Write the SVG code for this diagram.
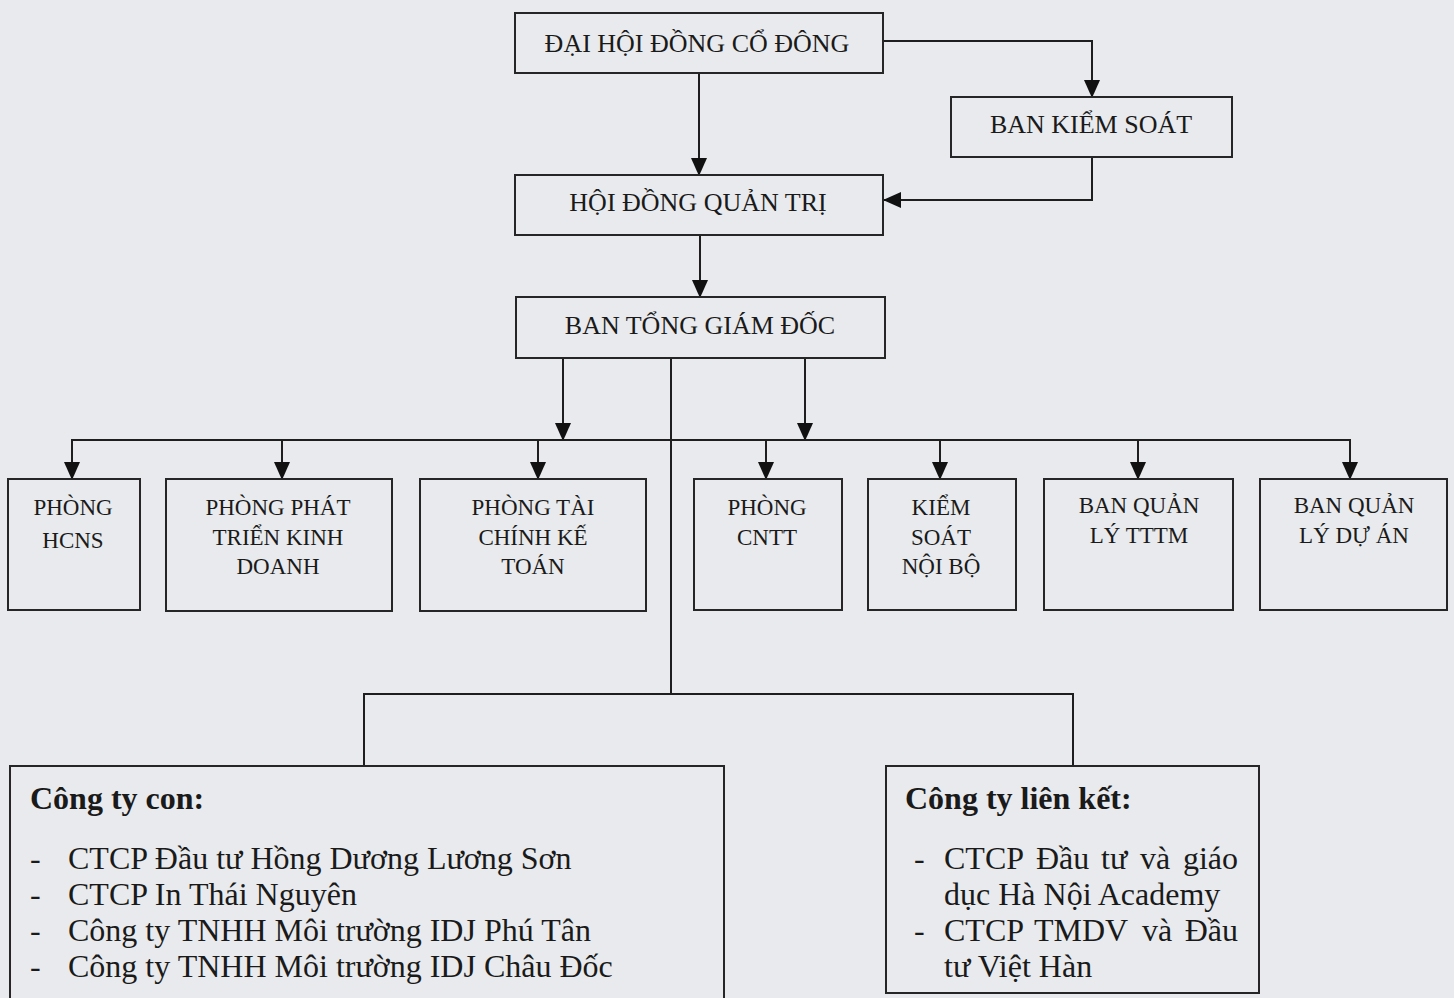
<svg xmlns="http://www.w3.org/2000/svg" width="1454" height="998" viewBox="0 0 1454 998">
<style>
.bx{fill:none;stroke:#262626;stroke-width:2}
.ln{fill:none;stroke:#1e1e1e;stroke-width:2}
.t1{font-family:"Liberation Serif","Times New Roman",serif;font-size:26px;fill:#1a1a1a;text-anchor:middle}
.t2{font-family:"Liberation Serif","Times New Roman",serif;font-size:23px;fill:#1a1a1a;text-anchor:middle}
.t3{font-family:"Liberation Serif","Times New Roman",serif;font-size:32px;fill:#1a1a1a}
.hd{font-weight:bold}
.end{text-anchor:end}
</style>
<defs>
<marker id="ah" markerUnits="userSpaceOnUse" markerWidth="18" markerHeight="16" viewBox="0 0 18 16" refX="17" refY="8" orient="auto">
<path d="M0,0 L18,8 L0,16 Z" fill="#111"/>
</marker>
</defs>
<rect width="1454" height="998" fill="#e8eaed"/>

<g id="connectors">
<line class="ln" x1="699" y1="73" x2="699" y2="175" marker-end="url(#ah)"/>
<polyline class="ln" points="883,41 1092,41 1092,97" marker-end="url(#ah)"/>
<polyline class="ln" points="1092,157 1092,200 884,200" marker-end="url(#ah)"/>
<line class="ln" x1="700" y1="235" x2="700" y2="297" marker-end="url(#ah)"/>
<line class="ln" x1="563" y1="358" x2="563" y2="440" marker-end="url(#ah)"/>
<line class="ln" x1="805" y1="358" x2="805" y2="440" marker-end="url(#ah)"/>
<line class="ln" x1="671" y1="358" x2="671" y2="694"/>
<line class="ln" x1="71" y1="440" x2="1351" y2="440"/>
<line class="ln" x1="72" y1="440" x2="72" y2="479" marker-end="url(#ah)"/>
<line class="ln" x1="282" y1="440" x2="282" y2="479" marker-end="url(#ah)"/>
<line class="ln" x1="538" y1="440" x2="538" y2="479" marker-end="url(#ah)"/>
<line class="ln" x1="766" y1="440" x2="766" y2="479" marker-end="url(#ah)"/>
<line class="ln" x1="940" y1="440" x2="940" y2="479" marker-end="url(#ah)"/>
<line class="ln" x1="1138" y1="440" x2="1138" y2="479" marker-end="url(#ah)"/>
<line class="ln" x1="1350" y1="440" x2="1350" y2="479" marker-end="url(#ah)"/>
<polyline class="ln" points="364,766 364,694 1073,694 1073,766"/>
</g>

<g id="dhdcd"><rect class="bx" x="515" y="13" width="368" height="60"/><text class="t1" x="697" y="52">ĐẠI HỘI ĐỒNG CỔ ĐÔNG</text></g>
<g id="bks"><rect class="bx" x="951" y="97" width="281" height="60"/><text class="t1" x="1091" y="133">BAN KIỂM SOÁT</text></g>
<g id="hdqt"><rect class="bx" x="515" y="175" width="368" height="60"/><text class="t1" x="698" y="211">HỘI ĐỒNG QUẢN TRỊ</text></g>
<g id="btgd"><rect class="bx" x="516" y="297" width="369" height="61"/><text class="t1" x="700" y="334">BAN TỔNG GIÁM ĐỐC</text></g>

<g id="hcns"><rect class="bx" x="8" y="479" width="132" height="131"/><text class="t2" x="73" y="515">PHÒNG</text><text class="t2" x="73" y="548">HCNS</text></g>
<g id="pptkd"><rect class="bx" x="166" y="479" width="226" height="132"/><text class="t2" x="278" y="515">PHÒNG PHÁT</text><text class="t2" x="278" y="545">TRIỂN KINH</text><text class="t2" x="278" y="574">DOANH</text></g>
<g id="ptckt"><rect class="bx" x="420" y="479" width="226" height="132"/><text class="t2" x="533" y="515">PHÒNG TÀI</text><text class="t2" x="533" y="545">CHÍNH KẾ</text><text class="t2" x="533" y="574">TOÁN</text></g>
<g id="cntt"><rect class="bx" x="694" y="479" width="148" height="131"/><text class="t2" x="767" y="515">PHÒNG</text><text class="t2" x="767" y="545">CNTT</text></g>
<g id="ksnb"><rect class="bx" x="868" y="479" width="148" height="131"/><text class="t2" x="941" y="515">KIỂM</text><text class="t2" x="941" y="545">SOÁT</text><text class="t2" x="941" y="574">NỘI BỘ</text></g>
<g id="bqltttm"><rect class="bx" x="1044" y="479" width="189" height="131"/><text class="t2" x="1139" y="513">BAN QUẢN</text><text class="t2" x="1139" y="543">LÝ TTTM</text></g>
<g id="bqlda"><rect class="bx" x="1260" y="479" width="187" height="131"/><text class="t2" x="1354" y="513">BAN QUẢN</text><text class="t2" x="1354" y="543">LÝ DỰ ÁN</text></g>

<g id="congtycon"><rect class="bx" x="10" y="766" width="714" height="250"/>
<text class="t3 hd" x="30" y="809">Công ty con:</text>
<text class="t3" x="30" y="869">-</text><text class="t3" x="68" y="869">CTCP Đầu tư Hồng Dương Lương Sơn</text>
<text class="t3" x="30" y="905">-</text><text class="t3" x="68" y="905">CTCP In Thái Nguyên</text>
<text class="t3" x="30" y="941">-</text><text class="t3" x="68" y="941">Công ty TNHH Môi trường IDJ Phú Tân</text>
<text class="t3" x="30" y="977">-</text><text class="t3" x="68" y="977">Công ty TNHH Môi trường IDJ Châu Đốc</text>
</g>
<g id="congtylienket"><rect class="bx" x="886" y="766" width="373" height="227"/>
<text class="t3 hd" x="905" y="809">Công ty liên kết:</text>
<text class="t3" x="914" y="869">-</text>
<text class="t3" y="869"><tspan x="944">CTCP</tspan><tspan x="1036">Đầu</tspan><tspan x="1101">tư</tspan><tspan x="1140">và</tspan></text>
<text class="t3 end" x="1238" y="869">giáo</text>
<text class="t3" x="944" y="905">dục Hà Nội Academy</text>
<text class="t3" x="914" y="941">-</text>
<text class="t3" y="941"><tspan x="944">CTCP</tspan><tspan x="1034">TMDV</tspan><tspan x="1142">và</tspan></text>
<text class="t3 end" x="1238" y="941">Đầu</text>
<text class="t3" x="944" y="977">tư Việt Hàn</text>
</g>
</svg>
